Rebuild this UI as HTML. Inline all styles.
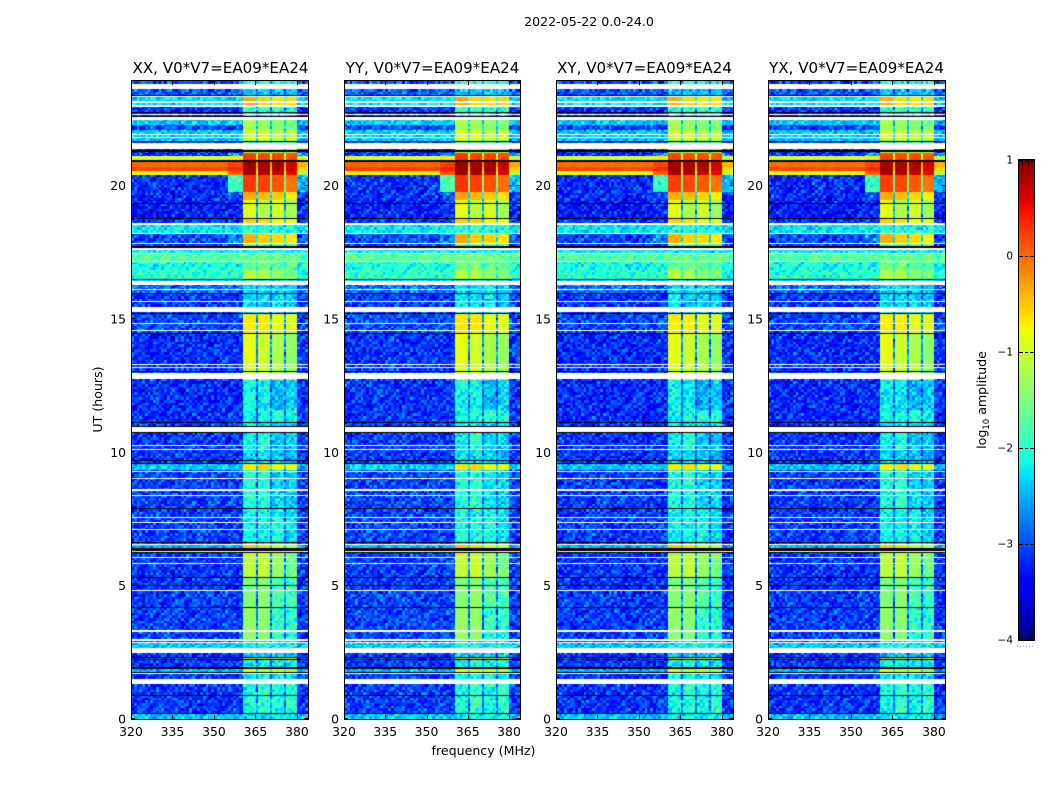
<!DOCTYPE html>
<html lang="en">
<head>
<meta charset="utf-8">
<title>2022-05-22 0.0-24.0</title>
<style>
html,body{margin:0;padding:0;background:#fff;}
#figure{position:relative;width:1050px;height:800px;overflow:hidden;background:#fff;}
canvas{position:absolute;top:81px;}
#overlay{position:absolute;left:0;top:0;}
text{font-family:"DejaVu Sans","Liberation Sans",sans-serif;fill:#000;}
</style>
</head>
<body>
<div id="figure">
<canvas id="heat0" width="177" height="638" style="left:131px"></canvas>
<canvas id="heat1" width="176" height="638" style="left:344px"></canvas>
<canvas id="heat2" width="177" height="638" style="left:556px"></canvas>
<canvas id="heat3" width="177" height="638" style="left:768px"></canvas>
<svg id="overlay" width="1050" height="800" xmlns="http://www.w3.org/2000/svg">
  <text x="589" y="26" font-size="12.6" text-anchor="middle">2022-05-22 0.0-24.0</text>
  <text x="220.5" y="73" font-size="15.1" text-anchor="middle">XX, V0*V7=EA09*EA24</text>
  <text x="432.5" y="73" font-size="15.1" text-anchor="middle">YY, V0*V7=EA09*EA24</text>
  <text x="644.5" y="73" font-size="15.1" text-anchor="middle">XY, V0*V7=EA09*EA24</text>
  <text x="856.5" y="73" font-size="15.1" text-anchor="middle">YX, V0*V7=EA09*EA24</text>
  <text x="483.5" y="755" font-size="12.6" text-anchor="middle">frequency (MHz)</text>
  <text transform="translate(102,399.5) rotate(-90)" font-size="12.6" text-anchor="middle">UT (hours)</text>
  <text transform="translate(986,400) rotate(-90)" font-size="12.6" text-anchor="middle">log<tspan font-size="8.5" dy="3">10</tspan><tspan dy="-3"> amplitude</tspan></text>
  <g id="axes"></g>
  <g id="cbar"></g>
</svg>
</div>
<script>
// UT band edges (hours), top to bottom
const utBandEdges = [24.00,23.70,23.47,23.02,22.80,22.53,22.35,22.16,21.74,21.44,21.29,21.18,20.95,20.77,20.62,20.47,19.83,19.52,18.81,18.62,18.28,17.91,17.64,17.49,17.23,16.89,16.55,16.33,16.03,15.27,14.48,13.36,12.75,11.62,11.17,10.80,10.12,9.59,9.37,7.86,6.58,6.43,6.28,5.34,4.85,4.18,2.97,2.86,2.67,2.48,2.33,2.26,1.96,1.88,1.77,1.47,0.17,0];
// log10 amplitude per UT band, for each frequency zone
const offLevel = [-3.05,-2.95,-2.3,-3.15,-3.3,-2.4,-3.05,-2.4,-3.15,-3.2,
-3.2,-0.9,0.0,0.2,-0.8,-3.2,-3.2,-3.3,-3.15,-2.25,
-3.05,-3.15,-2.2,-1.75,-2.1,-2.0,-2.3,-2.85,-3.15,-3.05,
-3.2,-3.15,-3.2,-3.2,-3.1,-3.15,-3.15,-2.4,-3.1,-3.1,
-2.5,-3.2,-3.15,-3.15,-3.1,-3.1,-3.05,-2.4,-3.05,-3.15,
-3.05,-3.15,-3.15,-2.5,-3.15,-3.15,-2.4];
const shoulderLevel = [-3.05,-2.95,-2.3,-3.15,-3.3,-2.4,-3.05,-2.4,-3.15,-3.2,
-2.6,-0.7,0.2,0.35,0.05,-1.9,-3.0,-3.2,-3.15,-2.25,
-2.7,-3.15,-2.2,-1.75,-2.1,-2.0,-2.3,-2.85,-3.15,-3.05,
-3.2,-3.15,-3.2,-3.15,-3.1,-3.15,-3.15,-2.4,-3.1,-3.1,
-2.5,-3.2,-3.15,-3.15,-3.1,-3.1,-3.05,-2.4,-3.05,-3.15,
-3.05,-3.15,-3.15,-2.5,-3.15,-3.15,-2.4];
const sub1Level = [-2.0,-2.4,-0.35,-1.9,-2.3,-1.2,-1.25,-1.0,-1.9,-1.2,
0.2,0.25,0.85,0.9,0.85,0.25,-0.35,-0.85,-0.55,-2.0,
-0.35,-1.7,-2.2,-1.6,-1.6,-1.15,-2.2,-2.3,-2.25,-0.7,
-0.85,-1.0,-2.15,-2.15,-2.2,-2.2,-2.3,-0.7,-2.05,-2.15,
-0.5,-2.5,-1.1,-1.5,-1.45,-1.35,-2.3,-2.1,-2.4,-2.4,
-0.55,-2.2,-2.2,-0.9,-2.2,-2.1,-2.25];
const sub2Level = [-2.0,-2.4,-0.6,-1.9,-2.3,-1.3,-1.35,-0.95,-1.9,-1.1,
0.15,0.2,0.8,0.85,0.8,0.2,-0.45,-1.15,-0.6,-2.0,
-0.55,-1.7,-2.2,-1.6,-1.55,-1.2,-2.2,-2.3,-2.35,-0.7,
-1.0,-1.0,-2.2,-2.1,-2.2,-2.0,-2.3,-0.6,-2.0,-2.15,
-0.6,-2.5,-1.05,-1.45,-1.4,-1.4,-2.3,-2.1,-2.4,-2.4,
-0.6,-2.1,-2.2,-1.0,-2.2,-1.95,-2.2];
const sub3Level = [-2.1,-2.4,-0.65,-1.9,-2.3,-1.4,-1.45,-1.1,-1.9,-1.2,
0.15,0.2,0.8,0.85,0.7,0.1,-0.55,-0.95,-0.8,-2.05,
-0.6,-1.8,-2.2,-1.6,-1.7,-1.4,-2.2,-2.3,-2.3,-0.85,
-1.2,-1.15,-2.5,-2.0,-2.3,-2.4,-2.4,-0.8,-2.3,-2.1,
-1.0,-2.5,-1.3,-1.8,-1.75,-1.95,-2.3,-2.15,-2.4,-2.4,
-0.6,-2.2,-2.2,-1.0,-2.2,-2.1,-2.2];
const sub4Level = [-2.1,-2.4,-0.6,-2.0,-2.3,-1.5,-1.55,-1.05,-1.9,-1.2,
0.1,0.15,0.65,0.65,0.55,-0.05,-0.7,-1.25,-0.9,-2.05,
-0.7,-1.8,-2.2,-1.6,-1.7,-1.5,-2.2,-2.4,-2.4,-0.9,
-1.35,-1.3,-2.35,-2.1,-2.3,-2.4,-2.5,-0.85,-2.35,-2.3,
-1.05,-2.5,-1.55,-1.9,-1.9,-2.0,-2.3,-2.15,-2.4,-2.4,
-0.7,-2.2,-2.2,-1.2,-2.3,-1.95,-2.2];
const gapLevel = [-2.6,-2.8,-2.0,-2.6,-2.8,-2.3,-2.4,-2.2,-2.7,-2.1,
-1.2,-0.8,-0.3,-0.5,-0.8,-1.6,-2.3,-2.6,-2.4,-2.3,
-2.2,-2.4,-2.2,-1.7,-2.0,-1.9,-2.2,-2.7,-2.9,-2.7,
-2.7,-2.7,-2.9,-2.8,-2.8,-2.9,-2.9,-2.2,-2.8,-2.8,
-2.2,-2.9,-2.7,-2.8,-2.8,-2.8,-2.7,-2.3,-2.7,-2.9,
-2.4,-2.8,-2.8,-2.1,-2.8,-2.8,-2.3];
const rightLevel = [-2.95,-2.95,-2.4,-3.15,-3.3,-2.5,-3.05,-2.5,-3.15,-3.15,
-2.6,-1.0,-0.4,-0.6,-1.2,-2.5,-3.15,-3.25,-3.15,-2.3,
-3.05,-3.15,-2.2,-1.75,-2.1,-2.1,-2.4,-2.95,-3.15,-3.05,
-3.15,-3.15,-3.15,-3.15,-3.15,-3.15,-3.15,-2.5,-3.15,-3.15,
-2.6,-3.2,-3.15,-3.15,-3.15,-3.15,-3.05,-2.4,-3.05,-3.15,
-3.05,-3.15,-3.15,-2.6,-3.15,-3.15,-2.5];
// frequency zones (MHz)
const zoneEdgesMHz = [320,355,360.5,365.2,365.9,370.3,371,375.4,376.1,380,384];
const zoneSeries = [offLevel,shoulderLevel,sub1Level,gapLevel,sub2Level,gapLevel,sub3Level,gapLevel,sub4Level,rightLevel];
// flagged (blank) and zero-valued (black) time ranges, UT hours
const flaggedHigh = [23.90,23.44,23.24,23.08,22.76,22.63,22.01,21.88,21.73,21.66,18.64,18.30,17.89,17.81,17.72,17.54,17.24,16.49,16.17,15.72,15.51,14.90,14.63,13.34,13.25,13.02,11.00,10.30,10.16,9.34,9.07,8.65,8.44,7.60,7.41,7.15,6.59,6.31,6.08,5.87,4.86,3.35,3.00,2.91,2.68,1.72,1.49];
const flaggedLow  = [23.70,23.40,23.19,23.03,22.72,22.53,21.97,21.84,21.70,21.43,18.58,18.25,17.85,17.79,17.64,17.48,17.20,16.33,16.14,15.69,15.31,14.86,14.60,13.30,13.22,12.79,10.81,10.26,10.13,9.30,9.04,8.59,8.41,7.56,7.37,7.12,6.56,6.28,6.06,5.83,4.83,3.27,2.92,2.85,2.48,1.68,1.32];
const zeroHigh = [23.49,22.82,22.70,21.75,21.41,21.03,19.42,18.85,17.78,16.56,16.04,15.29,14.52,13.10,11.19,11.04,10.81,9.76,9.63,7.95,6.66,6.42,6.27,5.36,5.05,4.20,2.34,2.26,1.96,1.90,1.75,0.89,0.21];
const zeroLow  = [23.45,22.78,22.65,21.73,21.34,20.95,19.37,18.83,17.72,16.53,16.01,15.27,14.48,13.08,11.15,11.01,10.78,9.72,9.59,7.91,6.62,6.32,6.24,5.31,5.03,4.18,2.32,2.24,1.92,1.88,1.73,0.87,0.17];
// noise offsets read as typical scatter around band levels
const grainTable = [
[0.31,-0.22,0.08,-0.41,0.17,0.42,-0.12,-0.33,0.25,0.03,-0.47,0.36,-0.06],
[-0.18,0.44,-0.29,0.11,-0.05,-0.38,0.29,0.14,-0.44,0.38,0.07,-0.24,0.19],
[0.05,-0.35,0.37,0.22,-0.46,0.09,-0.19,0.48,-0.02,-0.27,0.33,0.12,-0.39],
[-0.43,0.15,-0.08,0.34,0.26,-0.31,0.41,-0.16,-0.37,0.21,-0.11,0.46,0.02],
[0.39,0.01,-0.45,-0.14,0.47,0.13,-0.28,0.06,0.32,-0.41,0.24,-0.03,-0.21],
[-0.09,0.28,0.18,-0.36,-0.23,0.35,0.04,-0.48,0.16,0.43,-0.17,-0.32,0.27],
[0.23,-0.42,0.45,0.07,-0.13,-0.26,0.49,0.19,-0.34,-0.07,0.3,-0.15,0.1],
[-0.3,0.12,-0.2,0.4,-0.39,0.24,-0.04,0.33,0.09,-0.46,0.15,0.37,-0.25],
[0.46,-0.1,0.03,-0.28,0.2,-0.44,0.16,-0.23,0.42,0.11,-0.36,-0.01,0.34],
[-0.16,0.36,-0.47,0.27,0.05,0.17,-0.4,0.26,-0.12,0.3,0.08,-0.29,-0.43],
[0.14,-0.3,0.22,-0.02,0.38,-0.18,0.1,-0.37,0.44,-0.21,-0.06,0.4,0.0]];
const panelOffset = [0,0.03,-0.02,-0.02];
const panelLeft = [131,344,556,768];
const panelWidth = [177,176,177,177];
const panelNames = ['xx','yy','xy','yx'];
const freqTickLabels = [320,335,350,365,380];
const utTickLabels = [0,5,10,15,20];
const cbarTickLabels = [1,0,-1,-2,-3,-4];

let W = 177;
const H = 638, TOP = 81, FMIN = 320, FMAX = 384, UMAX = 24, UAXISMAX = 23.92;
const VMIN = -4, VMAX = 1;
const xScale = f => (f - FMIN) / (FMAX - FMIN) * W;
const yScale = u => H - u / UMAX * H;
const yTickScale = u => H - u / UAXISMAX * H;

function ramp(t, pts) {
  for (let i = 1; i < pts.length; i++) {
    if (t <= pts[i][0]) {
      const a = pts[i - 1], b = pts[i];
      return a[1] + (b[1] - a[1]) * (t - a[0]) / (b[0] - a[0]);
    }
  }
  return pts[pts.length - 1][1];
}
const jetR = [[0,0],[0.35,0],[0.66,1],[0.89,1],[1,0.5]];
const jetG = [[0,0],[0.125,0],[0.375,1],[0.64,1],[0.91,0],[1,0]];
const jetB = [[0,0.5],[0.11,1],[0.34,1],[0.65,0],[1,0]];
function jet(v) {
  const t = Math.max(0, Math.min(1, (v - VMIN) / (VMAX - VMIN)));
  return 'rgb(' + Math.round(255 * ramp(t, jetR)) + ',' + Math.round(255 * ramp(t, jetG)) + ',' + Math.round(255 * ramp(t, jetB)) + ')';
}
function grainAmp(level) {
  if (level > -1.5) return 0.08;
  if (level > -2.6) return 0.5;
  return 0.72;
}
function fillBox(ctx, f0, f1, uHigh, uLow) {
  const x0 = Math.round(xScale(f0)), x1 = Math.round(xScale(f1));
  const y0 = Math.round(yScale(uHigh));
  const y1 = Math.max(y0 + 1, Math.round(yScale(uLow)));
  ctx.fillRect(x0, y0, Math.max(1, x1 - x0), y1 - y0);
}
function grainAt(r, ch, p) {
  const n = grainTable.length, m = grainTable[0].length;
  const a = grainTable[(r + p * 4) % n][(ch + p * 5) % m];
  const b = grainTable[(r * 7 + ch + p) % n][(ch * 5 + r * r) % m];
  return a + b;
}
function drawPanel(p) {
  const ctx = document.getElementById('heat' + p).getContext('2d');
  const rowH = 0.1;
  for (let b = 0; b < utBandEdges.length - 1; b++) {
    const high = utBandEdges[b], low = utBandEdges[b + 1];
    for (let z = 0; z < zoneSeries.length; z++) {
      const level = zoneSeries[z][b] + panelOffset[p];
      const amp = grainAmp(level);
      const zf0 = zoneEdgesMHz[z], zf1 = zoneEdgesMHz[z + 1];
      for (let r = Math.floor(low / rowH); r * rowH < high; r++) {
        const u0 = Math.max(low, r * rowH), u1 = Math.min(high, (r + 1) * rowH);
        if (u1 <= u0) continue;
        for (let ch = Math.floor(zf0); ch < zf1; ch++) {
          const f0 = Math.max(zf0, ch), f1 = Math.min(zf1, ch + 1);
          if (f1 <= f0) continue;
          ctx.fillStyle = jet(level + grainAt(r, ch, p) * amp);
          fillBox(ctx, f0, f1, u1, u0);
        }
      }
    }
  }
  ctx.fillStyle = '#fff';
  for (let i = 0; i < flaggedHigh.length; i++) fillBox(ctx, FMIN, FMAX, flaggedHigh[i], flaggedLow[i]);
  ctx.fillStyle = '#000';
  for (let i = 0; i < zeroHigh.length; i++) fillBox(ctx, FMIN, FMAX, zeroHigh[i], zeroLow[i]);
}
const SVGNS = 'http://www.w3.org/2000/svg';
function svgEl(tag, parent, attrs) {
  const el = document.createElementNS(SVGNS, tag);
  for (const k in attrs) el.setAttribute(k, attrs[k]);
  parent.appendChild(el);
  return el;
}
function drawAxes(p) {
  const root = document.getElementById('axes');
  const L = panelLeft[p];
  const frame = svgEl('rect', root, {x: L + 0.5, y: TOP - 0.5, width: W, height: H + 1, fill: 'none', stroke: '#000', 'stroke-width': 1});
  
  
  for (const f of freqTickLabels) {
    const x = Math.round(L + xScale(f)) + 0.5;
    const tb = svgEl('line', root, {x1: x, x2: x, y1: TOP + H, y2: TOP + H - 4, stroke: '#000'});
    
    
    const tt = svgEl('line', root, {x1: x, x2: x, y1: TOP, y2: TOP + 4, stroke: '#000'});
    
    
    const lab = svgEl('text', root, {x: L + xScale(f), y: TOP + H + 17, 'font-size': 12.4, 'text-anchor': 'middle'});
    
    
    lab.textContent = f;
  }
  for (const u of utTickLabels) {
    const yt = TOP + yTickScale(u);
    const y = Math.round(yt) - 0.5;
    const tl = svgEl('line', root, {x1: L, x2: L + 4, y1: y, y2: y, stroke: '#000'});
    
    
    const tr = svgEl('line', root, {x1: L + W, x2: L + W - 4, y1: y, y2: y, stroke: '#000'});
    
    
    const lab = svgEl('text', root, {x: L - 5, y: yt + 4.5, 'font-size': 12.4, 'text-anchor': 'end'});
    
    
    lab.textContent = u;
  }
}
function drawColorbar() {
  const root = document.getElementById('cbar');
  const cx = 1019, cw = 15, cy = 160, ch = 480;
  const cbarY = v => cy + (VMAX - v) / (VMAX - VMIN) * ch;
  for (let i = 0; i < ch; i += 2) {
    const v = VMAX - (i + 1) / ch * (VMAX - VMIN);
    const seg = svgEl('rect', root, {x: cx, y: cy + i, width: cw, height: 2, fill: jet(v)});
    
    
  }
  const fr = svgEl('rect', root, {x: cx - 0.5, y: cy - 0.5, width: cw + 1, height: ch + 1, fill: 'none', stroke: '#000'});
  
  
  for (const v of cbarTickLabels) {
    const y = Math.round(cbarY(v)) + 0.5;
    const t = svgEl('line', root, {x1: cx, x2: cx + cw, y1: y, y2: y, stroke: '#000', 'stroke-dasharray': '4 2 3 2 4'});
    
    
    const lab = svgEl('text', root, {x: cx - 6, y: y + 3, 'font-size': 10.5, 'text-anchor': 'end'});
    
    
    lab.textContent = String(v).replace('-', '\u2212');
  }
  for (let i = 1; i <= 4; i++) {
    const x = cx + i * 3 + 0.5;
    const m1 = svgEl('line', root, {x1: x, x2: x, y1: cy, y2: cy + 6, stroke: '#000', 'stroke-width': 0.8});
    
    
    const m2 = svgEl('line', root, {x1: x, x2: x, y1: cy + ch, y2: cy + ch - 6, stroke: '#000', 'stroke-width': 0.8});
    
    
  }
  const dots = svgEl('line', root, {x1: 1017, x2: 1035, y1: 646.5, y2: 646.5, stroke: '#999', 'stroke-dasharray': '1 2'});
  
  
}
for (let p = 0; p < 4; p++) { W = panelWidth[p]; drawPanel(p); drawAxes(p); }
drawColorbar();
</script>
</body>
</html>
